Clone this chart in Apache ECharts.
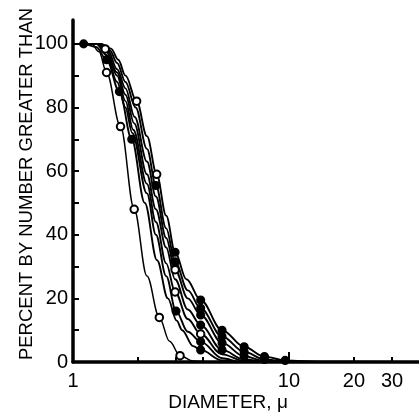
<!DOCTYPE html>
<html>
<head>
<meta charset="utf-8">
<script src="https://cdn.jsdelivr.net/npm/echarts@6/dist/echarts.min.js"></script>
<style>
  html, body { margin: 0; padding: 0; background: #fff; }
  #chart { width: 419px; height: 412px; }
</style>
</head>
<body>
<div id="chart"></div>
<script>
// diameter (micron) vs percent by number greater than
const curveA = [[1, 100], [1.22, 100], [1.32, 97.5], [1.43, 91], [1.66, 74], [1.92, 48], [2.2, 27], [2.51, 14], [2.8, 6.5], [3.13, 2], [3.6, 0.3], [4.3, 0], [40, 0]]
const curveB1 = [[1, 100], [1.35, 100], [1.5, 98.5], [1.62, 95], [1.75, 90], [1.97, 82], [2.2, 71], [2.44, 59], [2.7, 46], [2.97, 34.5], [3.35, 26], [3.9, 19.5], [4.9, 10], [6.2, 4.8], [7.7, 1.7], [9.6, 0.5], [14, 0.05], [40, 0]]
const curveB2 = [[1, 100], [1.35, 100], [1.48, 98], [1.6, 94], [1.75, 88], [1.95, 80], [2.2, 67], [2.42, 55.5], [2.7, 42], [2.97, 31.5], [3.4, 22.5], [3.9, 16.9], [4.9, 8], [6.2, 3.2], [7.7, 0.8], [10, 0.1], [40, 0]]
const curveB3 = [[1, 100], [1.33, 100], [1.45, 98], [1.6, 92], [1.75, 86], [1.93, 77], [2.2, 63], [2.42, 52], [2.7, 39], [2.97, 29], [3.4, 20], [3.9, 14.8], [4.9, 6], [6.2, 1.8], [7.7, 0.3], [10, 0], [40, 0]]
const curveB4 = [[1, 100], [1.32, 100], [1.41, 98.4], [1.6, 91], [1.75, 84], [1.92, 75], [2.2, 59], [2.42, 48], [2.7, 36], [2.97, 26], [3.4, 16.5], [3.9, 11.6], [4.9, 3.8], [6.2, 0.8], [8, 0], [40, 0]]
const curveB5 = [[1, 100], [1.3, 100], [1.43, 97.5], [1.6, 90], [1.75, 82], [1.9, 73], [2.2, 56], [2.42, 44], [2.7, 31], [2.97, 22], [3.4, 13.5], [3.9, 8.8], [4.9, 2.4], [6.2, 0.3], [7.5, 0], [40, 0]]
const curveB6 = [[1, 100], [1.28, 100], [1.43, 96.5], [1.6, 88], [1.75, 80], [1.88, 72], [2.2, 53], [2.42, 40], [2.7, 27], [3.0, 16], [3.4, 9.5], [3.9, 6.4], [4.9, 1.2], [6, 0], [40, 0]]
const curveB7 = [[1, 100], [1.12, 100], [1.28, 99], [1.43, 95], [1.64, 85], [1.87, 70], [2.15, 50], [2.45, 32], [2.75, 20], [3.02, 13], [3.2, 10], [3.6, 5], [3.9, 3.8], [4.9, 0.5], [6, 0], [40, 0]]

// which points carry an open or a filled circle (by diameter)
const curves = [
  { pts: curveA, open: [1.43, 1.66, 1.92, 2.51, 3.13], filled: [] },
  { pts: curveB1, open: [1.97, 2.44], filled: [2.97, 3.9, 4.9, 6.2, 7.7, 9.6] },
  { pts: curveB2, open: [], filled: [2.42, 2.97, 3.9, 4.9, 6.2, 7.7] },
  { pts: curveB3, open: [2.97], filled: [3.9, 4.9, 6.2] },
  { pts: curveB4, open: [1.41], filled: [3.9, 4.9] },
  { pts: curveB5, open: [2.97, 3.9], filled: [] },
  { pts: curveB6, open: [], filled: [3.0, 3.9] },
  { pts: curveB7, open: [], filled: [1.12, 1.43, 1.64, 1.87, 3.9] },
]

const yTicks = [0, 10, 20, 30, 40, 50, 60, 70, 80, 90, 100]
const yLabels = [0, 20, 40, 60, 80, 100]
const xTicks = [2, 3, 4, 20, 30]
const xLabels = [1, 10, 20, 30]

const font = '"Liberation Sans", Arial, sans-serif'
const chart = echarts.init(document.getElementById('chart'), null, { renderer: 'canvas' })

const series = curves.map((c, i) => ({
  type: 'line',
  smooth: 0.35,
  smoothMonotone: 'x',
  symbol: 'none',
  showSymbol: true,
  symbolSize: 7.5,
  lineStyle: { color: '#000', width: i === 0 ? 1.5 : 1.9 },
  itemStyle: { color: '#000', borderColor: '#000', borderWidth: 1.6 },
  data: c.pts.map(([d, y]) => ({
    value: [d, y],
    symbol: c.open.includes(d) ? 'emptyCircle' : c.filled.includes(d) ? 'circle' : 'none',
  })),
  z: 3,
}))

chart.setOption({
  animation: false,
  backgroundColor: '#fff',
  grid: { left: 73, right: 0, top: 20, bottom: 50, outerBoundsMode: 'none' },
  xAxis: [
    {
      type: 'log',
      logBase: 10,
      min: 1,
      max: 40,
      name: 'DIAMETER, μ',
      nameLocation: 'middle',
      nameGap: 31,
      nameMoveOverlap: false,
      nameTextStyle: { color: '#000', fontSize: 19, fontFamily: font, padding: [0, 36, 0, 0] },
      axisLine: { lineStyle: { color: '#000', width: 3.5 } },
      axisTick: { inside: true, length: 5, customValues: xTicks, lineStyle: { color: '#000', width: 2 } },
      axisLabel: { customValues: xLabels, color: '#000', fontSize: 20, fontFamily: font, margin: 9 },
      splitLine: { show: false },
    },
    {
      // the taller tick at 10
      type: 'log',
      logBase: 10,
      min: 1,
      max: 40,
      position: 'bottom',
      axisLine: { show: false },
      axisTick: { inside: true, length: 10, customValues: [10], lineStyle: { color: '#000', width: 2 } },
      axisLabel: { show: false },
      splitLine: { show: false },
    },
  ],
  yAxis: {
    type: 'value',
    min: 0,
    max: 107.5,
    name: 'PERCENT BY NUMBER GREATER THAN',
    nameLocation: 'middle',
    nameGap: 37,
    nameMoveOverlap: false,
    nameTextStyle: { color: '#000', fontSize: 18.5, fontFamily: font, padding: [0, 0, 0, 14] },
    axisLine: { show: true, lineStyle: { color: '#000', width: 3.5 } },
    axisTick: { show: true, inside: true, length: 6, customValues: yTicks, lineStyle: { color: '#000', width: 2 } },
    axisLabel: { customValues: yLabels, color: '#000', fontSize: 20, fontFamily: font, margin: 5 },
    splitLine: { show: false },
  },
  series,
})
</script>
</body>
</html>
